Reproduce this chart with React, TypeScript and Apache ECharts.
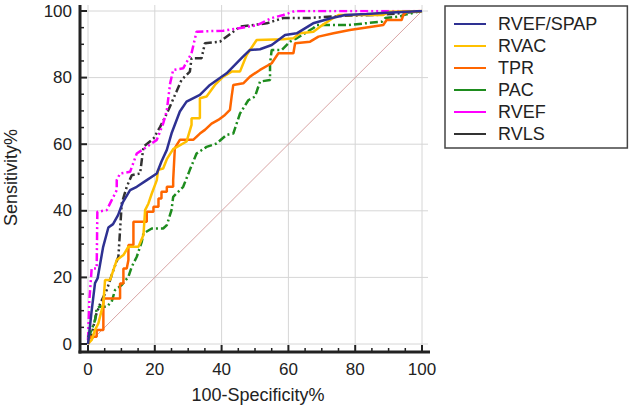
import React, { useEffect, useRef } from "react";
import * as echarts from "echarts";

const seriesNames = ["RVEF/SPAP", "RVAC", "TPR", "PAC", "RVEF", "RVLS"];
const majorTicks = [0, 20, 40, 60, 80, 100];
const minorTicks = [5, 10, 15, 25, 30, 35, 45, 50, 55, 65, 70, 75, 85, 90, 95];
const xAxisName = "100-Specificity%";
const yAxisName = "Sensitivity%";

const rvefSpapX = [0, 1.1, 2.1, 2.9, 4.5, 6.1, 7.5, 9, 10.5, 12.6, 14.6, 17.6, 20.6, 22, 23.6, 25, 27.5, 29.5, 33.5, 36.5, 41.5, 46.4, 48.5, 51.5, 55, 59, 62.5, 67.4, 73, 77, 83.4, 89.4, 100];
const rvefSpapY = [0, 10, 18.3, 19.8, 29, 35, 36, 38.7, 42.7, 46.2, 47.2, 49.2, 51.2, 54.8, 58.3, 63.2, 69.8, 72.8, 74.8, 77.8, 81.3, 86.3, 88.3, 88.5, 89.8, 92.8, 93.3, 96.3, 97.9, 98.8, 99.1, 99.5, 100];

const rvacX = [0, 1.1, 2.1, 3.1, 4.6, 5.1, 6.6, 7.6, 8.6, 10.6, 12.1, 15.1, 16.6, 17.1, 18.1, 19.1, 20.6, 21, 22.5, 23.6, 25.5, 29.5, 31, 31, 33.5, 33.5, 35.5, 38, 40.5, 43, 45.5, 47.5, 50.5, 58.5, 61.5, 63.5, 67.5, 69.5, 72.5, 75, 88.4, 90.4, 100];
const rvacY = [0, 1.2, 4.2, 6.2, 12.2, 19.2, 19.2, 22.2, 25.2, 26.7, 29.2, 29.2, 32.7, 40.2, 42.2, 45.2, 49.2, 52.3, 52.7, 55.5, 58.5, 60.8, 65.8, 67.8, 67.8, 73.8, 74.3, 77.8, 80.3, 81.8, 81.8, 86.8, 91.3, 91.5, 91.8, 93.3, 93.8, 95.3, 97.3, 98.8, 98.8, 99.8, 100];

const tprX = [0, 0.6, 2.6, 2.6, 4.6, 4.6, 9.6, 9.6, 10.6, 10.6, 11.6, 12.1, 12.1, 13.6, 13.6, 17.6, 17.6, 19.6, 19.6, 21.1, 21.1, 22, 22, 23.6, 23.6, 25.5, 25.5, 26, 27.5, 31.5, 33.5, 35, 37, 39, 41, 42.5, 43, 43.5, 46.5, 48.5, 51.5, 55, 57, 61.5, 62, 66.5, 69, 73.5, 78.4, 88.4, 89.4, 93.9, 94.4, 95.4, 100];
const tprY = [0, 2.2, 2.2, 4.2, 4.2, 13.7, 13.7, 18.2, 18.2, 22.7, 22.7, 25.2, 29.7, 29.7, 36.7, 36.7, 39.7, 39.7, 41.2, 41.2, 43.7, 43.7, 45.7, 45.7, 47.2, 47.2, 49.2, 58.8, 61.3, 61.3, 63.2, 64.3, 66.2, 67.3, 68.8, 70.3, 74.3, 77.8, 78.3, 80.3, 82.3, 84.3, 87.3, 87.3, 90.3, 90.8, 92.3, 93.3, 94.3, 95.8, 97.3, 97.3, 98.8, 99.8, 100];

const pacX = [0, 1.1, 2.1, 2.6, 3.6, 5.6, 7.1, 8.1, 10.1, 12.1, 13.1, 14.6, 16.1, 16.6, 19.1, 22.5, 23.6, 25, 25.5, 26.5, 28.5, 30.5, 32.5, 35.5, 38.5, 41.5, 43.5, 45.5, 48, 50, 51.5, 54.5, 54.5, 55, 58, 60.5, 62.5, 67.5, 68.5, 78, 88, 89, 93.5, 94.5, 100];
const pacY = [2, 4.2, 7.2, 10.7, 11.2, 11.2, 12.7, 16.2, 17.7, 20.2, 23.2, 26.2, 30.7, 33.2, 34.7, 34.7, 35.7, 40.2, 44.2, 45.2, 47.2, 52.3, 57.2, 59.2, 60.2, 62.8, 63.2, 69.2, 73.2, 74.3, 78.8, 79.3, 84.3, 88.3, 88.3, 90.8, 91.8, 94.9, 95.8, 95.8, 96.8, 97.9, 98.4, 98.8, 100];

const rvefX = [0, 0.4, 1.1, 2.6, 2.8, 5.6, 7.1, 8.6, 8.6, 9.6, 12.6, 14.6, 17.6, 20.6, 22.5, 23.6, 24.6, 25.5, 28.5, 31, 32.5, 40.5, 50.5, 55, 58.5, 62, 100];
const rvefY = [1.2, 13, 22.7, 22.7, 39.7, 40.2, 43.2, 46.2, 49.2, 51.2, 51.7, 57.2, 59.2, 61.3, 66.2, 70.2, 78.3, 82.3, 82.8, 87.3, 93.8, 94.1, 95.7, 97.9, 98.8, 100, 100];

const rvlsX = [0, 1.1, 2.5, 3.6, 5.6, 6.6, 7.6, 9.1, 9.6, 10.1, 11.6, 13.1, 15.6, 16.6, 19.6, 21.6, 23.6, 26.5, 28, 30.5, 31, 34, 35, 39.5, 45.5, 53.5, 58.5, 66.5, 77, 86.4, 93.4, 100];
const rvlsY = [1, 3, 9, 12, 16.2, 19.2, 22.2, 26.2, 34.2, 42.2, 47.2, 50.7, 51.2, 59.2, 61.7, 65.2, 69.2, 75.8, 79.3, 81.8, 85.8, 85.8, 90.3, 90.8, 95.3, 96.3, 97.9, 97.9, 98.6, 98.8, 99.3, 100];

const refX = [0, 100];
const refY = [0, 100];

const colors = ["#2E3192", "#FFC000", "#FF6600", "#1E8C1E", "#FF00FF", "#333333"];
const dashes: any[] = ["solid", "solid", "solid", [8, 3, 2, 3], [8, 3, 2, 3, 2, 3], [8, 3, 2, 3, 2, 3]];
const xs = [rvefSpapX, rvacX, tprX, pacX, rvefX, rvlsX];
const ys = [rvefSpapY, rvacY, tprY, pacY, rvefY, rvlsY];

const zip = (a: number[], b: number[]) => a.map((v, i) => [v, b[i]]);

const FONT = "'Liberation Sans', Arial, sans-serif";
const INK = "#222";

const hiddenAxis = () => ({
  type: "value",
  min: 0,
  max: 100,
  interval: 20,
  axisLine: { show: false, onZero: false },
  axisTick: { show: false },
  splitLine: { show: false },
  axisLabel: { show: false },
});

export default function App() {
  const ref = useRef<HTMLDivElement>(null);
  useEffect(() => {
    if (!ref.current) return;
    const chart = echarts.init(ref.current, undefined, { renderer: "svg" });
    const series: any[] = [
      {
        name: "Reference",
        type: "line",
        data: zip(refX, refY),
        symbol: "none",
        lineStyle: { color: "#D8A4A4", width: 1 },
        z: 3,
        silent: true,
      },
      ...seriesNames.map((n, i) => ({
        name: n,
        type: "line",
        data: zip(xs[i], ys[i]),
        symbol: "none",
        color: colors[i],
        lineStyle: { color: colors[i], width: 2.5, type: dashes[i] },
        z: 10 - i,
      })),
    ];
    chart.setOption({
      animation: false,
      grid: { left: 88, right: 208, top: 11, bottom: 65 },
      xAxis: hiddenAxis(),
      yAxis: hiddenAxis(),
      legend: {
        data: seriesNames,
        orient: "vertical",
        left: 445,
        top: 6,
        padding: [9, 30, 5, 9],
        itemGap: 4,
        itemWidth: 32,
        itemHeight: 14,
        borderColor: "#444",
        borderWidth: 1.5,
        textStyle: { color: INK, fontSize: 18, fontFamily: FONT, padding: [0, 0, 0, 7] },
        icon: "path://M0,6 L32,6 L32,8 L0,8 Z",
      },
      series,
    });

    const px = (v: number) => (chart.convertToPixel({ gridIndex: 0 }, [v, 0]) as number[])[0];
    const py = (v: number) => (chart.convertToPixel({ gridIndex: 0 }, [0, v]) as number[])[1];
    const x0 = px(0), x1 = px(100), y0 = py(0), y1 = py(100);
    const off = 8;
    const axX = x0 - off; // y-axis line position
    const axY = y0 + off; // x-axis line position
    const els: any[] = [];
    const line = (a: number, b: number, c: number, d: number, stroke: string, w: number, z: number) =>
      els.push({ type: "line", silent: true, z, shape: { x1: a, y1: b, x2: c, y2: d }, style: { stroke, lineWidth: w } });

    // grid lines
    majorTicks.forEach((v) => {
      line(x0 - 6, py(v), x1 + 6, py(v), "#D6D6D6", 1, 0);
      line(px(v), y1 - 6, px(v), y0 + 3, "#D6D6D6", 1, 0);
    });
    // axis lines
    line(axX, y1 - 6, axX, axY + 1.5, INK, 3, 50);
    line(axX - 1.5, axY, x1 + 8, axY, INK, 3, 50);
    // ticks
    majorTicks.forEach((v) => {
      line(axX, py(v), axX + 7, py(v), INK, 2, 50);
      line(px(v), axY, px(v), axY - 7, INK, 2, 50);
    });
    minorTicks.forEach((v) => {
      line(axX, py(v), axX + 4, py(v), INK, 1.5, 50);
      line(px(v), axY, px(v), axY - 4, INK, 1.5, 50);
    });
    // tick labels
    majorTicks.forEach((v) => {
      els.push({
        type: "text", silent: true, z: 50,
        x: axX - 8, y: py(v),
        style: { text: String(v), fill: INK, font: `17px ${FONT}`, align: "right", verticalAlign: "middle", textAlign: "right", textVerticalAlign: "middle" },
      });
      els.push({
        type: "text", silent: true, z: 50,
        x: px(v), y: axY + 9,
        style: { text: String(v), fill: INK, font: `17px ${FONT}`, align: "center", verticalAlign: "top", textAlign: "center", textVerticalAlign: "top" },
      });
    });
    // axis names
    els.push({
      type: "text", silent: true, z: 50,
      x: (x0 + x1) / 2 + 3, y: axY + 43,
      style: { text: xAxisName, fill: INK, font: `18px ${FONT}`, align: "center", verticalAlign: "middle", textAlign: "center", textVerticalAlign: "middle" },
    });
    els.push({
      type: "text", silent: true, z: 50,
      x: axX - 69, y: (y0 + y1) / 2, rotation: Math.PI / 2,
      style: { text: yAxisName, fill: INK, font: `18px ${FONT}`, align: "center", verticalAlign: "middle", textAlign: "center", textVerticalAlign: "middle" },
    });
    chart.setOption({ graphic: { elements: els } });

    return () => chart.dispose();
  }, []);
  return <div ref={ref} style={{ width: 630, height: 409, position: "absolute", left: 0, top: 0 }} />;
}
